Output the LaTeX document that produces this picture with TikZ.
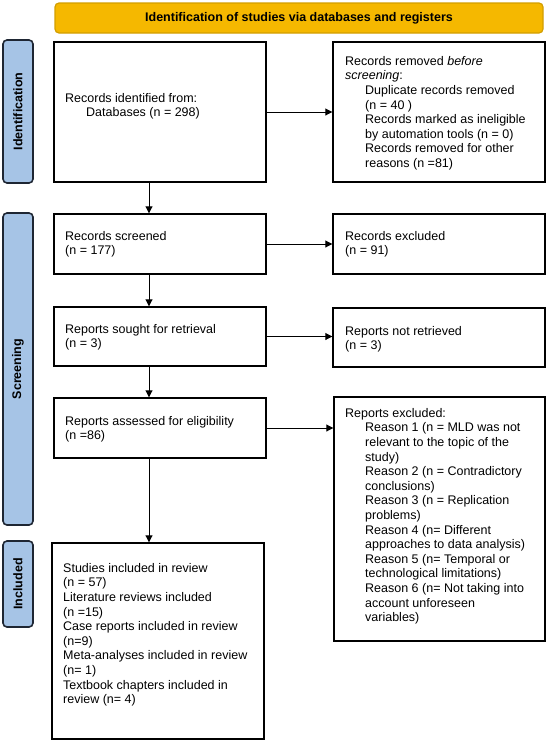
\documentclass[tikz,border=0pt]{standalone}
\usepackage{fontspec}
\setmainfont{Liberation Sans}
\usetikzlibrary{arrows.meta}
\definecolor{bannerfill}{HTML}{F5B800}
\definecolor{bannerdraw}{HTML}{D29E00}
\definecolor{sidefill}{HTML}{A6C4E6}
\definecolor{sidedraw}{HTML}{1E2633}
\begin{document}
\begin{tikzpicture}[x=1pt,y=-1pt,
  box/.style={draw=black, line width=1.4pt, minimum width=212pt, inner sep=0pt},
  txt/.style={anchor=north west, align=left, inner sep=0pt, font=\fontsize{12.5}{14.6}\selectfont},
  side/.style={draw=sidedraw, fill=sidefill, line width=1.6pt, rounded corners=4pt,
    minimum height=30pt, inner sep=0pt, rotate=90, font=\fontsize{12.5}{14}\selectfont\bfseries},
  banner/.style={draw=bannerdraw, fill=bannerfill, line width=1.2pt, rounded corners=4pt,
    minimum width=488pt, minimum height=30pt, inner sep=0pt, font=\fontsize{12.5}{14}\selectfont\bfseries},
  arr/.style={line width=0.9pt, -{Triangle[length=7pt,width=7pt]}}]
\useasboundingbox (0,0) rectangle (550,742);

% banner
\node[banner] (ban) at (299,18) {Identification of studies via databases and registers};

% side bars
\node[side, minimum width=143pt] (sid) at (18,111.5) {Identification};
\node[side, minimum width=312pt] (sscr) at (18,369) {Screening};
\node[side, minimum width=86pt] (sinc) at (18,584) {Included};

% boxes
\node[box, minimum height=140pt] (b1) at (160,112) {};
\node[box, minimum height=140pt] (r1) at (439,112) {};
\node[box, minimum height=60pt] (scr) at (160,244) {};
\node[box, minimum height=60pt] (exc) at (439,244) {};
\node[box, minimum height=59pt] (sou) at (160,336.5) {};
\node[box, minimum height=59pt] (nre) at (439,337.5) {};
\node[box, minimum height=60pt] (ass) at (160,428) {};
\node[box, minimum height=244pt, minimum width=211pt] (rex) at (439.5,519) {};
\node[box, minimum height=196pt] (stu) at (158,641) {};

% texts
\node[txt] (t1) at (65,93) {Records identified from:\\\hspace*{21pt}Databases (n = 298)};
\node[txt] (tr1) at (345,56) {Records removed \textit{before}\\\textit{screening}:\\
  \hspace*{20pt}Duplicate records removed\\\hspace*{20pt}(n = 40 )\\
  \hspace*{20pt}Records marked as ineligible\\\hspace*{20pt}by automation tools (n = 0)\\
  \hspace*{20pt}Records removed for other\\\hspace*{20pt}reasons (n =81)};
\node[txt] (tscr) at (65,231) {Records screened\\(n = 177)};
\node[txt] (texc) at (345,231) {Records excluded\\(n = 91)};
\node[txt] (tsou) at (65,324) {Reports sought for retrieval\\(n = 3)};
\node[txt] (tnre) at (345,326) {Reports not retrieved\\(n = 3)};
\node[txt] (tass) at (65,416) {Reports assessed for eligibility\\(n =86)};
\node[txt] (trex) at (345,408) {Reports excluded:\\
  \hspace*{20pt}Reason 1 (n = MLD was not\\\hspace*{20pt}relevant to the topic of the\\\hspace*{20pt}study)\\
  \hspace*{20pt}Reason 2 (n = Contradictory\\\hspace*{20pt}conclusions)\\
  \hspace*{20pt}Reason 3 (n = Replication\\\hspace*{20pt}problems)\\
  \hspace*{20pt}Reason 4 (n= Different\\\hspace*{20pt}approaches to data analysis)\\
  \hspace*{20pt}Reason 5 (n= Temporal or\\\hspace*{20pt}technological limitations)\\
  \hspace*{20pt}Reason 6 (n= Not taking into\\\hspace*{20pt}account unforeseen\\\hspace*{20pt}variables)};
\node[txt] (tstu) at (63,563) {Studies included in review\\(n = 57)\\Literature reviews included\\(n =15)\\
  Case reports included in review\\(n=9)\\Meta-analyses included in review\\(n= 1)\\
  Textbook chapters included in\\review (n= 4)};

% connectors
\draw[arr] (b1.east) -- (r1.west |- b1.east);
\draw[arr] (scr.east) -- (exc.west |- scr.east);
\draw[arr] (sou.east) -- (nre.west |- sou.east);
\draw[arr] (ass.east) -- (rex.west |- ass.east);
\draw[arr] ([xshift=-11pt]b1.south) -- ([xshift=-11pt]b1.south |- scr.north);
\draw[arr] ([xshift=-11pt]scr.south) -- ([xshift=-11pt]scr.south |- sou.north);
\draw[arr] ([xshift=-11pt]sou.south) -- ([xshift=-11pt]sou.south |- ass.north);
\draw[arr] ([xshift=-11pt]ass.south) -- ([xshift=-11pt]ass.south |- stu.north);
\end{tikzpicture}
\end{document}
